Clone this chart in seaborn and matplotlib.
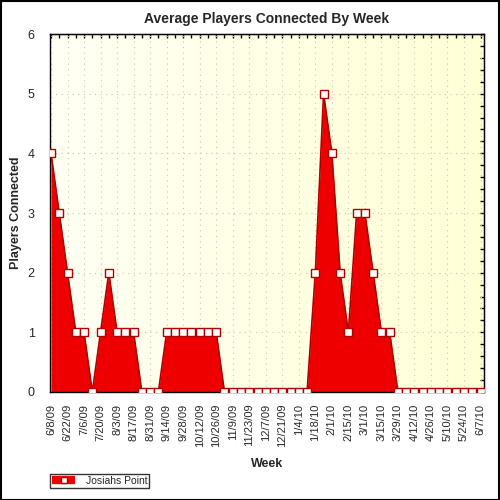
import numpy as np
import pandas as pd
import matplotlib
matplotlib.use('Agg')
import matplotlib.pyplot as plt
import seaborn as sns
from matplotlib.patches import Rectangle
from matplotlib.lines import Line2D
from matplotlib.ticker import MultipleLocator, NullFormatter

# weekly data, 6/8/09 .. 6/7/10
weeks = pd.date_range('2009-06-08', '2010-06-07', freq='7D')
players = [4, 3, 2, 1, 1, 0, 1, 2, 1, 1, 1, 0, 0, 0, 1, 1, 1, 1, 1, 1, 1,
           0, 0, 0, 0, 0, 0, 0, 0, 0, 0, 0,
           2, 5, 4, 2, 1, 3, 3, 2, 1, 1,
           0, 0, 0, 0, 0, 0, 0, 0, 0, 0, 0]
series_name = 'Josiahs Point'

df = pd.DataFrame({'week': weeks, 'players': players})
df['idx'] = np.arange(len(df))
df['label'] = [f'{d.month}/{d.day}/{d:%y}' for d in df['week']]

sns.set_style('white')
plt.rcParams['font.family'] = ['Liberation Sans', 'DejaVu Sans']

fig = plt.figure(figsize=(5, 5), dpi=100)
ax = fig.add_axes([0.100, 0.216, 0.868, 0.716])

xlim = (-0.12, 52.42)
# light yellow gradient background
grad = np.linspace(0, 1, 256).reshape(1, -1)
cmap = matplotlib.colors.LinearSegmentedColormap.from_list('bg', ['#fffff4', '#ffffd6'])
ax.imshow(grad, extent=[xlim[0], xlim[1], 0, 6], aspect='auto', cmap=cmap, zorder=0)

ax.fill_between(df['idx'], 0, df['players'], color='#ee0000', zorder=2, lw=0)
ax.plot(df['idx'], df['players'], color='#b00000', lw=1.2, zorder=3)
sns.lineplot(data=df, x='idx', y='players', ax=ax, color='#b00000', lw=0,
             marker='s', markersize=6, markerfacecolor='white',
             markeredgecolor='#b00000', markeredgewidth=1, zorder=4)

ax.set_xlim(*xlim)
ax.set_ylim(0, 6)
ax.set_xticks(df['idx'][::2])
ax.set_xticklabels(df['label'][::2], rotation=90, fontsize=8)
ax.xaxis.set_minor_locator(MultipleLocator(1))
ax.yaxis.set_major_locator(MultipleLocator(1))
ax.yaxis.set_minor_locator(MultipleLocator(0.2))
ax.tick_params(axis='x', which='major', direction='out', length=5, width=1, color='black')
ax.tick_params(axis='x', which='minor', direction='out', length=3, width=1, color='black')
ax.tick_params(axis='y', which='major', direction='out', length=6, width=1,
               color='black', labelsize=9, pad=5)
ax.tick_params(axis='y', which='minor', direction='inout', length=5, width=1, color='black')

# inward ticks on top and right
top = ax.secondary_xaxis('top')
top.xaxis.set_major_locator(MultipleLocator(1))
top.xaxis.set_major_formatter(NullFormatter())
top.tick_params(direction='in', length=3, width=1, color='black')
right = ax.secondary_yaxis('right')
right.yaxis.set_major_locator(MultipleLocator(0.2))
right.yaxis.set_major_formatter(NullFormatter())
right.tick_params(direction='in', length=3, width=1, color='black')

ax.grid(True, which='major', color='#c8c8b4', ls=(0, (1, 4)), lw=0.8, zorder=1)
for s in ax.spines.values():
    s.set_color('black')
    s.set_linewidth(1)

ax.set_xlabel('Week', fontsize=9, fontweight='bold', labelpad=8)
ax.set_ylabel('Players Connected', fontsize=9, fontweight='bold')
ax.yaxis.set_label_coords(-0.065, 0.5)
fig.text(0.534, 0.962, 'Average Players Connected By Week', ha='center',
         va='center', fontsize=10, fontweight='bold')

handle = Line2D([], [], color='#ee0000', lw=6, marker='s', markersize=5,
                solid_capstyle='butt', markerfacecolor='white',
                markeredgecolor='#b00000')
leg = fig.legend([handle], [series_name], loc='lower left',
                 bbox_to_anchor=(0.09, 0.014), fontsize=7.5, frameon=True,
                 fancybox=False, edgecolor='black', borderpad=0.2,
                 handlelength=2.2, handletextpad=1.0)
leg.get_frame().set_linewidth(1)

fig.patches.append(Rectangle((0.001, 0.001), 0.997, 0.997, transform=fig.transFigure,
                             fill=False, edgecolor='black', lw=1.5))

fig.savefig('out.png', dpi=100)
